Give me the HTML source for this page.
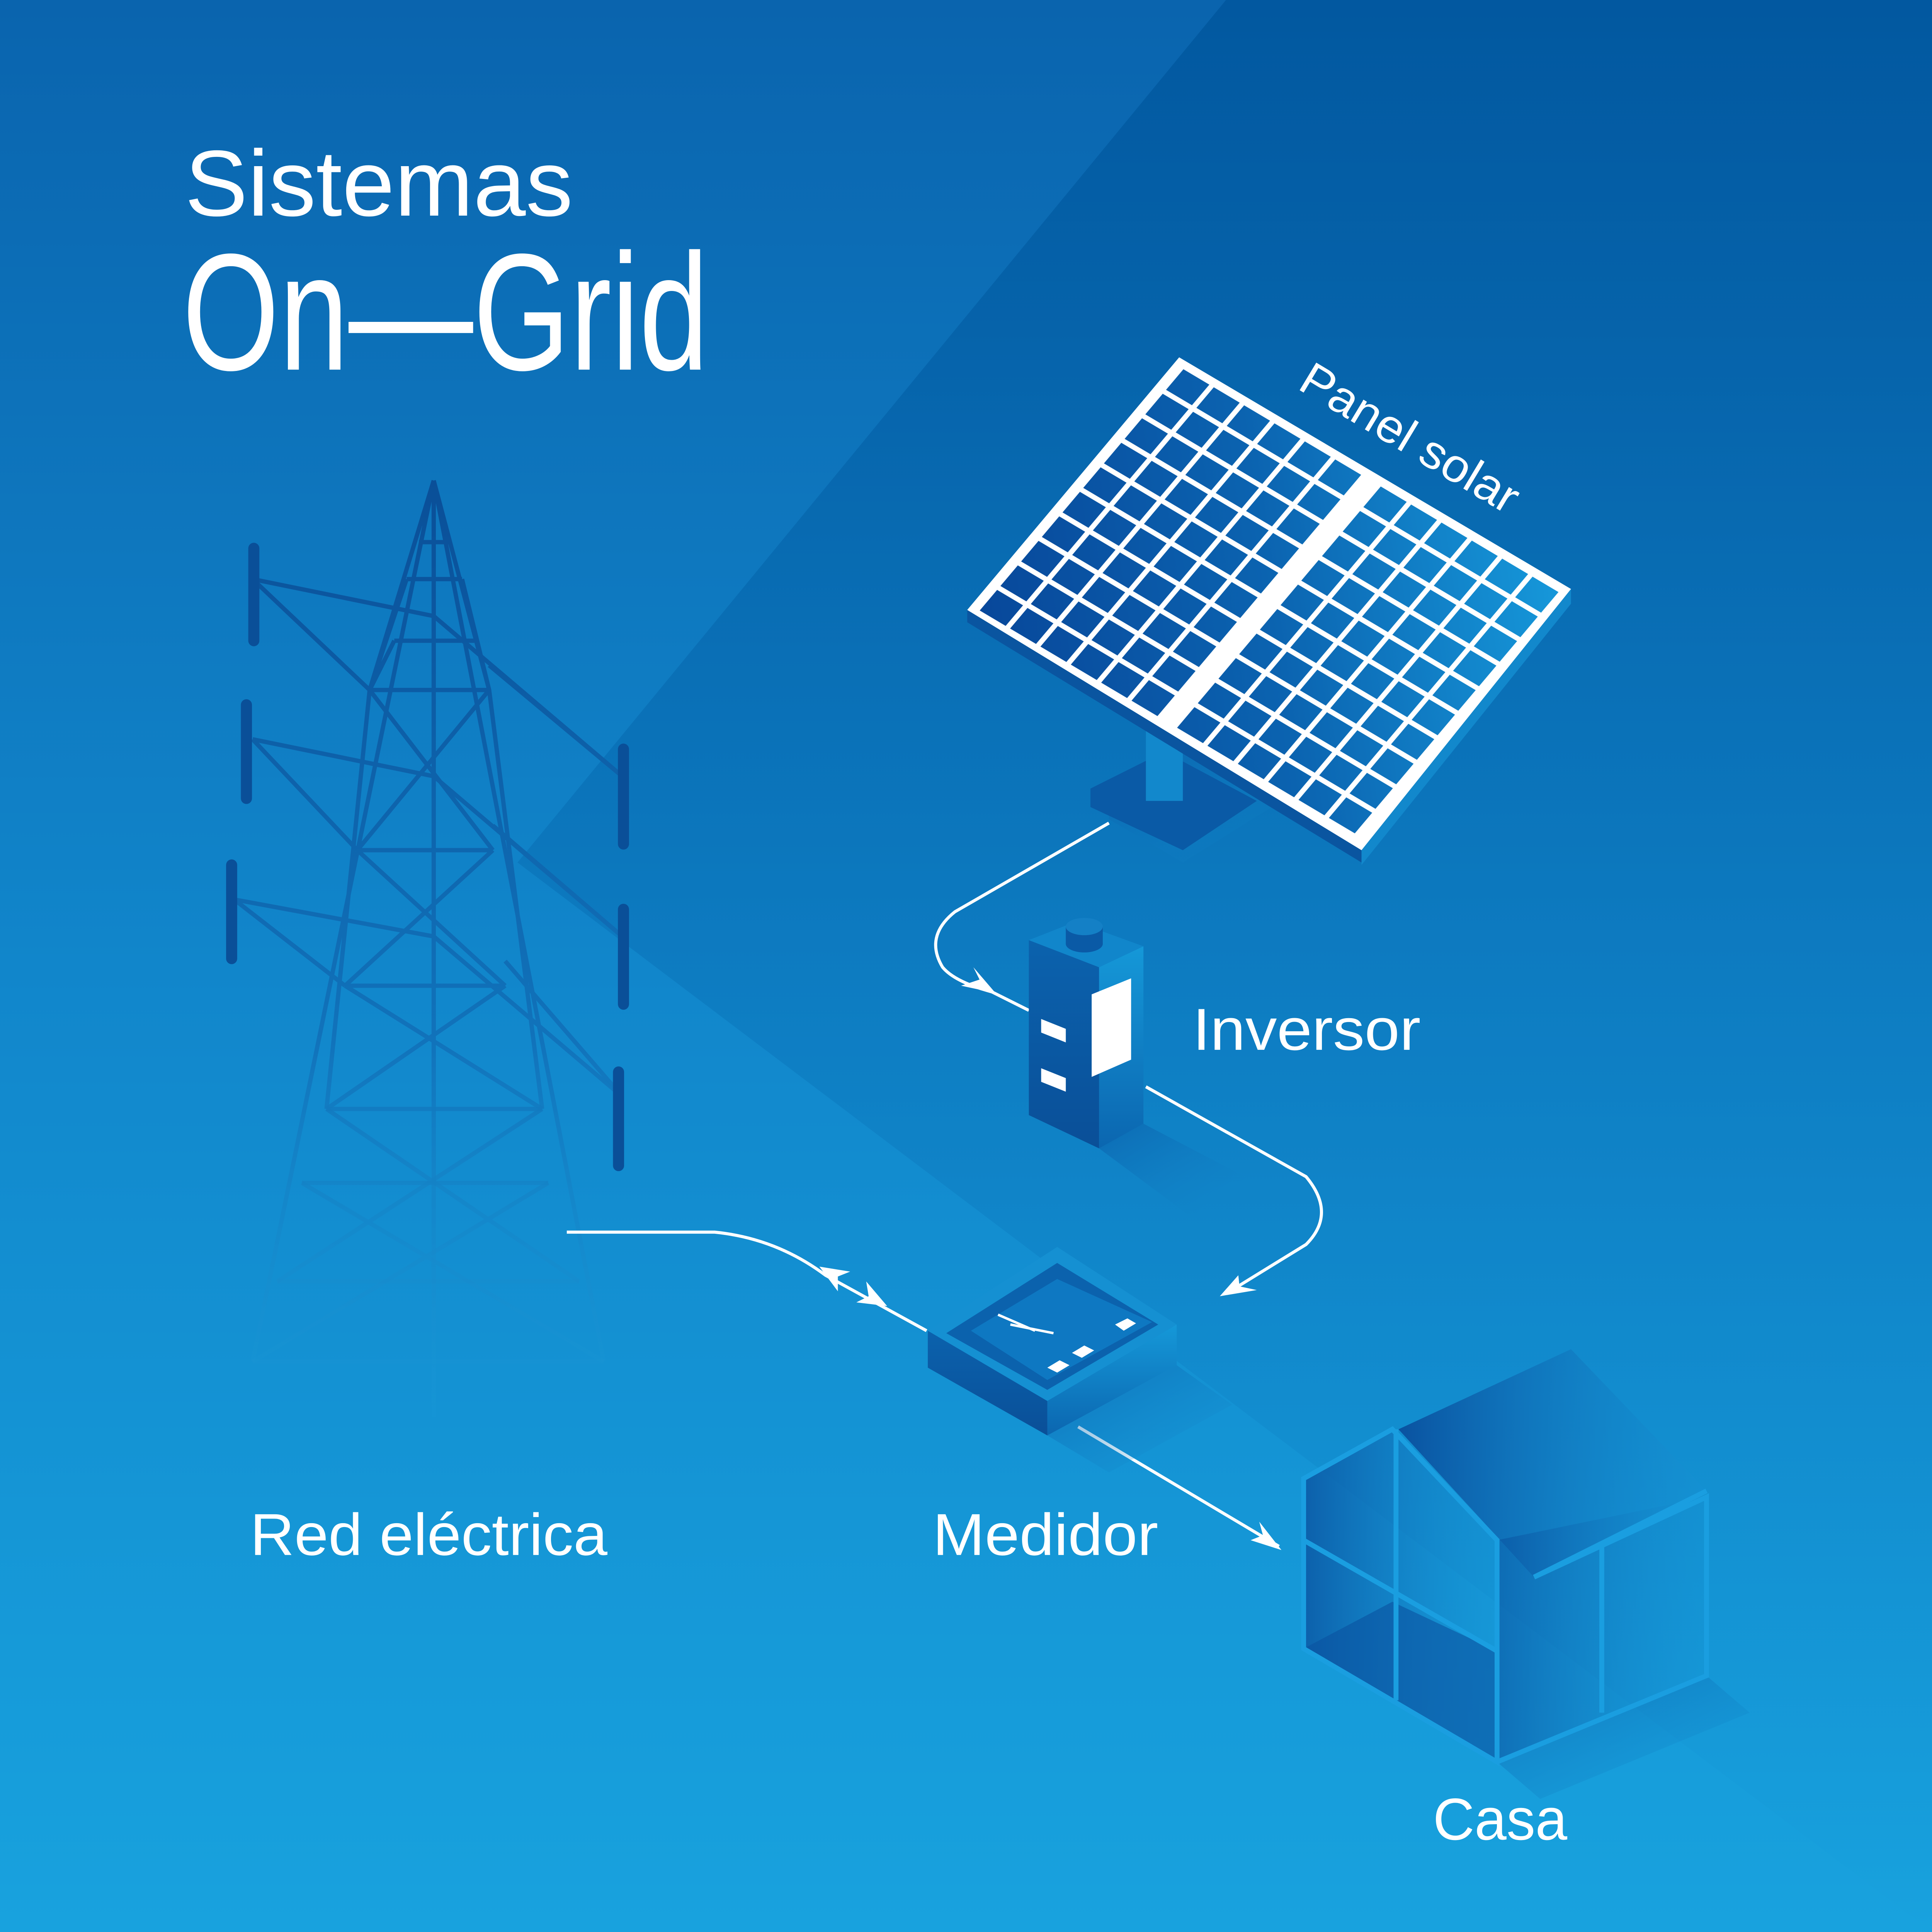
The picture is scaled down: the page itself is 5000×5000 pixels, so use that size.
<!DOCTYPE html>
<html><head><meta charset="utf-8"><style>
html,body{margin:0;padding:0;width:5000px;height:5000px;overflow:hidden;background:#127bc4}
svg{display:block}
text{font-family:"Liberation Sans",sans-serif;fill:#fff}
</style></head><body>
<svg width="5000" height="5000" viewBox="0 0 1568 1568" xmlns="http://www.w3.org/2000/svg">
<defs>
<linearGradient id="bg" x1="0" y1="0" x2="0" y2="1">
<stop offset="0" stop-color="#0a64ae"/><stop offset="0.5" stop-color="#1186cb"/><stop offset="1" stop-color="#18a2de"/>
</linearGradient>
<linearGradient id="tr" x1="0" y1="0" x2="0" y2="1">
<stop offset="0" stop-color="#00559c"/><stop offset="1" stop-color="#0e82c8" stop-opacity="0"/>
</linearGradient>
<linearGradient id="tw" gradientUnits="userSpaceOnUse" x1="0" y1="390" x2="0" y2="1150">
<stop offset="0" stop-color="#0a4f98"/><stop offset="0.6" stop-color="#1173bb"/><stop offset="1" stop-color="#1a9ad8" stop-opacity="0.2"/>
</linearGradient>
<linearGradient id="cellg" gradientUnits="userSpaceOnUse" x1="0" y1="1000" x2="1200" y2="0">
<stop offset="0" stop-color="#08479a"/><stop offset="0.5" stop-color="#0b63b0"/><stop offset="1" stop-color="#1698da"/>
</linearGradient>
<pattern id="cells" patternUnits="userSpaceOnUse" width="96" height="100">
<rect x="7" y="8" width="82" height="84" fill="#000"/>
</pattern>
<mask id="cm" maskUnits="userSpaceOnUse" x="0" y="0" width="1200" height="1000">
<rect x="0" y="0" width="1200" height="1000" fill="#000"/>
<g fill="#fff">
<rect x="0" y="0" width="576" height="1000" fill="url(#cw)"/>
<rect x="624" y="0" width="576" height="1000" fill="url(#cw2)"/>
</g>
</mask>
<pattern id="cw" patternUnits="userSpaceOnUse" x="0" y="0" width="96" height="100">
<rect x="7" y="8" width="82" height="84" fill="#fff"/>
</pattern>
<pattern id="cw2" patternUnits="userSpaceOnUse" x="624" y="0" width="96" height="100">
<rect x="7" y="8" width="82" height="84" fill="#fff"/>
</pattern>
<linearGradient id="dk" x1="0" y1="0" x2="0" y2="1">
<stop offset="0" stop-color="#0b62ad"/><stop offset="1" stop-color="#0a4f98"/>
</linearGradient>
<linearGradient id="lt" x1="0" y1="0" x2="0" y2="1">
<stop offset="0" stop-color="#1598d8"/><stop offset="1" stop-color="#0b66b0"/>
</linearGradient>
<linearGradient id="sh" x1="0" y1="0" x2="1" y2="1">
<stop offset="0" stop-color="#0a5aa6" stop-opacity="0.6"/><stop offset="1" stop-color="#1590d2" stop-opacity="0"/>
</linearGradient>
<linearGradient id="hs" x1="0" y1="0" x2="1" y2="0">
<stop offset="0" stop-color="#0a52a0"/><stop offset="1" stop-color="#1692d4" stop-opacity="0.3"/>
</linearGradient>
</defs>
<rect width="1568" height="1568" fill="url(#bg)"/>
<polygon points="995,0 1568,0 1568,1568 420,700" fill="url(#tr)" opacity="0.8"/>

<text x="150" y="175" font-size="76" textLength="315" lengthAdjust="spacingAndGlyphs">Sistemas</text>
<text x="148" y="300" font-size="135" textLength="427" lengthAdjust="spacingAndGlyphs">On—Grid</text>

<!-- tower -->
<g stroke="url(#tw)" stroke-width="3.5" fill="none">
<path d="M352,390 L205,1105 M352,390 L490,1105 M352,390 L300,560 L265,900 M352,390 L397,560 L440,900 M352,390 V1150"/>
<path d="M300,560 L397,560 M290,690 L400,690 M280,800 L410,800 M265,900 L440,900 M245,960 L445,960 M225,1040 L470,1040 M205,1105 L490,1105"/>
<path d="M300,560 L400,690 M397,560 L290,690 M290,690 L410,800 M400,690 L280,800 M280,800 L440,900 M410,800 L265,900 M265,900 L470,1040 M440,900 L225,1040 M245,960 L490,1105 M445,960 L205,1105"/>
<path d="M330,470 L375,470 M320,520 L385,520 M340,440 L365,440"/>
<path d="M205,470 L352,500 L505,630 M205,470 L300,560 M205,600 L352,630 L505,760 M205,600 L290,690 M190,730 L352,760 L505,890 M190,730 L280,800"/>
<path d="M397,540 L505,630 M400,670 L505,760 M410,780 L505,890"/>
<path d="M330,470 L300,560 L320,520 M375,470 L397,560"/>
</g>
<g stroke="#0a4f98" stroke-width="9" stroke-linecap="round">
<path d="M206,445 V520 M200,572 V648 M188,702 V778 M506,608 V685 M506,738 V815 M502,870 V946"/>
</g>

<!-- panel -->
<polygon points="900,640 960,610 1040,650 960,700 900,665" fill="url(#sh)"/>
<polygon points="885,640 945,610 1020,650 960,690 885,655" fill="#0a5aa6"/>
<rect x="930" y="590" width="30" height="60" fill="#1288cc"/>
<polygon points="785,495 1105,690 1105,700 785,505" fill="#0a55a0"/>
<polygon points="1105,690 1275,478 1275,490 1105,702" fill="#1288cc"/>
<polygon points="957,290 1275,478 1105,690 785,495" fill="#fff"/>
<g transform="matrix(0.25667 0.1525 -0.168 0.199 960 297)">
<rect x="0" y="0" width="1200" height="1000" fill="url(#cellg)" mask="url(#cm)"/>
</g>

<!-- connectors -->
<g stroke="#fff" stroke-width="2.5" fill="none">
<path d="M900,668 L775,740 Q750,760 765,785 Q775,797 805,805 L835,820"/>
<path d="M930,882 L1060,955 Q1085,985 1060,1010 L995,1050"/>
<path d="M460,1000 L580,1000 Q630,1005 670,1035 L752,1080"/>
<path d="M875,1158 L1038,1255"/>
</g>
<g fill="#fff">
<polygon points="808,806 780,800 795,795 790,785"/>
<polygon points="990,1052 1005,1035 1006,1044 1020,1047"/>
<polygon points="665,1028 690,1032 680,1036 680,1048"/>
<polygon points="720,1060 695,1057 705,1052 703,1040"/>
<polygon points="1040,1258 1015,1250 1025,1246 1022,1235"/>
</g>

<!-- inverter -->
<polygon points="892,932 928,912 1020,960 970,990" fill="url(#sh)"/>
<polygon points="835,763 892,785 892,932 835,905" fill="url(#dk)"/>
<polygon points="892,785 928,768 928,912 892,932" fill="url(#lt)"/>
<polygon points="835,763 873,748 928,768 892,785" fill="#1186cb"/>
<rect x="865" y="752" width="30" height="14" fill="#0a5aa6"/>
<ellipse cx="880" cy="766" rx="15" ry="7" fill="#0a5aa6"/>
<ellipse cx="880" cy="752" rx="15" ry="7" fill="#1480c6"/>
<polygon points="886,807 918,794 918,860 886,874" fill="#fff"/>
<polygon points="845,827 865,835 865,846 845,838" fill="#fff"/>
<polygon points="845,867 865,875 865,886 845,878" fill="#fff"/>

<!-- meter -->
<polygon points="850,1165 955,1108 1000,1140 900,1195" fill="url(#sh)"/>
<polygon points="753,1080 850,1137 850,1165 753,1110" fill="url(#dk)"/>
<polygon points="850,1137 955,1075 955,1108 850,1165" fill="url(#lt)"/>
<polygon points="753,1080 858,1012 955,1075 850,1137" fill="#1590d2"/>
<polygon points="768,1082 858,1025 940,1075 850,1128" fill="#0b62ad"/>
<polygon points="788,1080 858,1038 935,1073 850,1120" fill="#0e78c2"/>
<g stroke="#fff" stroke-width="2" fill="none"><path d="M810,1067 L840,1080 M820,1075 L855,1082"/></g>
<polygon points="850,1110 860,1104 868,1108 858,1114" fill="#fff"/>
<polygon points="870,1098 880,1092 888,1096 878,1102" fill="#fff"/>
<polygon points="905,1075 915,1070 922,1074 912,1080" fill="#fff"/>

<!-- house -->
<polygon points="1215,1430 1385,1360 1420,1390 1250,1460" fill="url(#sh)"/>
<polygon points="1058,1200 1130,1160 1215,1250 1215,1430 1058,1338" fill="url(#hs)" opacity="0.8"/>
<polygon points="1135,1160 1275,1095 1385,1210 1245,1280" fill="url(#hs)"/>
<polygon points="1215,1250 1385,1215 1385,1360 1215,1430" fill="url(#hs)" opacity="0.6"/>
<polygon points="1058,1338 1130,1300 1215,1340 1215,1430" fill="#0a52a0" opacity="0.6"/>
<g stroke="#1a9ee0" stroke-width="4" fill="none">
<path d="M1058,1200 L1130,1160 L1215,1250 L1215,1430 L1058,1338 Z M1133,1160 V1380 M1058,1250 L1215,1340 M1245,1280 L1385,1215 V1360 L1215,1430 M1300,1255 V1390 M1245,1280 L1385,1210"/>
</g>

<text x="203" y="1262" font-size="48" textLength="290" lengthAdjust="spacingAndGlyphs">Red eléctrica</text>
<text x="757" y="1262" font-size="48" textLength="183" lengthAdjust="spacingAndGlyphs">Medidor</text>
<text x="968" y="852" font-size="48" textLength="185" lengthAdjust="spacingAndGlyphs">Inversor</text>
<text x="1163" y="1493" font-size="48" textLength="109" lengthAdjust="spacingAndGlyphs">Casa</text>
<text x="1052" y="315" font-size="38" transform="rotate(31 1052 315)" textLength="200" lengthAdjust="spacingAndGlyphs">Panel solar</text>
</svg>
</body></html>
